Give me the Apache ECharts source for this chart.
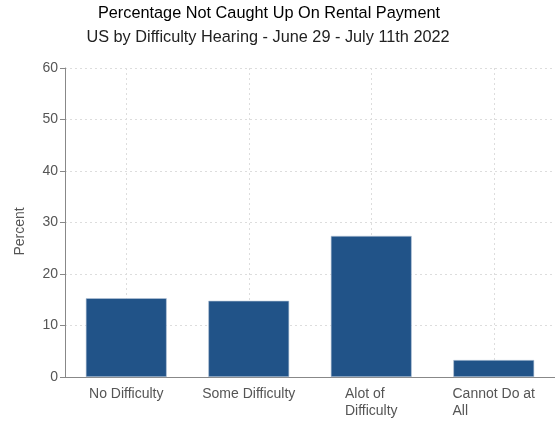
<!DOCTYPE html>
<html>
<head>
<meta charset="utf-8">
<script src="https://cdn.jsdelivr.net/npm/echarts@6/dist/echarts.min.js"></script>
<style>html,body{margin:0;padding:0;background:#fff;}#c{width:555px;height:424px;}</style>
</head>
<body>
<div id="c"></div>
<script>
const categories = ["No Difficulty", "Some Difficulty", "Alot of Difficulty", "Cannot Do at All"];
const tickLabels = ["No Difficulty", "Some Difficulty", "Alot of\nDifficulty", "Cannot Do at\nAll"];
const values = [15.3, 14.8, 27.4, 3.3];
const yTicks = [0, 10, 20, 30, 40, 50, 60];

const chart = echarts.init(document.getElementById('c'), null, {renderer: 'canvas'});
const font = '"Liberation Sans", Arial, sans-serif';
chart.setOption({
  animation: false,
  title: [
    {text: 'Percentage Not Caught Up On Rental Payment', left: 264, top: 1, textAlign: 'center',
     textStyle: {fontFamily: font, fontSize: 16.3, fontWeight: 'normal', color: '#000'}},
    {text: 'US by Difficulty Hearing - June 29 - July 11th 2022', left: 263, top: 25, textAlign: 'center',
     textStyle: {fontFamily: font, fontSize: 16.3, fontWeight: 'normal', color: '#222'}}
  ],
  grid: {left: 65, right: -4, top: 68, bottom: 47, containLabel: false},
  xAxis: {
    type: 'category',
    data: categories,
    axisLine: {lineStyle: {color: '#888', width: 1}},
    axisTick: {alignWithLabel: true, interval: 0, length: 5, lineStyle: {color: '#888'}},
    axisLabel: {
      interval: 0, hideOverlap: false,
      fontFamily: font, fontSize: 14, color: '#555', margin: 9, lineHeight: 17,
      formatter: function (v, i) {
        return tickLabels[i].split('\n').map(function (s) { return '{l|' + s + '}'; }).join('\n');
      },
      rich: {l: {fontFamily: font, fontSize: 14, color: '#555', lineHeight: 17, align: 'left'}}
    },
    splitLine: {show: true, interval: 0, alignWithLabel: true, lineStyle: {color: '#ddd', type: [2, 3]}}
  },
  yAxis: {
    type: 'value',
    min: yTicks[0], max: yTicks[yTicks.length - 1], interval: 10,
    name: 'Percent', nameLocation: 'middle', nameGap: 38,
    nameTextStyle: {fontFamily: font, fontSize: 14, color: '#555', padding: [0, 18, 0, 0]},
    axisLine: {show: true, lineStyle: {color: '#888', width: 1}},
    axisTick: {show: true, length: 5, lineStyle: {color: '#888'}},
    axisLabel: {fontFamily: font, fontSize: 14, color: '#555', margin: 7},
    splitLine: {show: true, lineStyle: {color: '#ddd', type: [2, 3]}}
  },
  series: [{
    type: 'bar',
    data: values,
    barWidth: '66%',
    itemStyle: {color: '#215388', borderColor: '#b8c8da', borderWidth: 0.6}
  }]
});
</script>
</body>
</html>
